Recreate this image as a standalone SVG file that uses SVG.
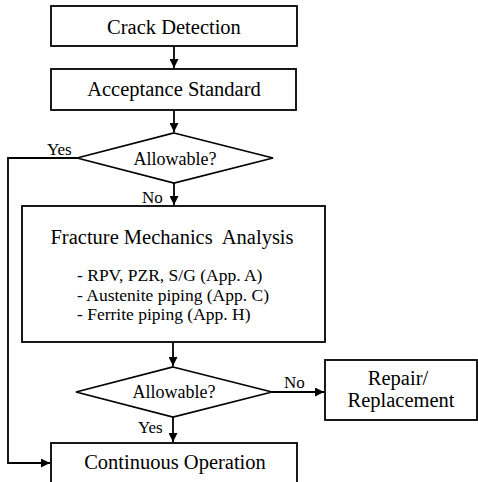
<svg xmlns="http://www.w3.org/2000/svg" width="478" height="482" viewBox="0 0 478 482" font-family="'Liberation Serif', 'Times New Roman', 'DejaVu Serif', serif">
<style>
.box{fill:#fff;stroke:#000;stroke-width:1.8}
.ln{fill:none;stroke:#000;stroke-width:1.8}
text{font-family:'Liberation Serif','Times New Roman','DejaVu Serif',serif;fill:#000}
.t{font-size:20.5px;text-anchor:middle}
.d{font-size:18px;text-anchor:middle}
.l{font-size:17.5px}
.lab{font-size:17px}
</style>
<defs>
<marker id="ah" viewBox="0 0 10 10" refX="10" refY="5" markerWidth="9" markerHeight="9" markerUnits="userSpaceOnUse" orient="auto">
<path d="M0,0 L10,5 L0,10 Z" fill="#000"/>
</marker>
</defs>
<rect width="478" height="482" fill="#fff"/>
<g id="connectors">
<line class="ln" x1="174" y1="46" x2="174" y2="68" marker-end="url(#ah)"/>
<line class="ln" x1="174" y1="110" x2="174" y2="132" marker-end="url(#ah)"/>
<line class="ln" x1="174" y1="183" x2="174" y2="205" marker-end="url(#ah)"/>
<line class="ln" x1="173" y1="342" x2="173" y2="366" marker-end="url(#ah)"/>
<line class="ln" x1="173" y1="417" x2="173" y2="442" marker-end="url(#ah)"/>
<line class="ln" x1="272" y1="392" x2="324" y2="392" marker-end="url(#ah)"/>
<polyline class="ln" points="77,158 8,158 8,463 50,463" marker-end="url(#ah)"/>
<text class="lab" x="47" y="155">Yes</text>
<text class="lab" x="142" y="203">No</text>
<text class="lab" x="284" y="388">No</text>
<text class="lab" x="138" y="433">Yes</text>
</g>
<g id="crack-detection">
<rect class="box" x="51" y="6" width="246" height="40"/>
<text class="t" x="174" y="34">Crack Detection</text>
</g>
<g id="acceptance-standard">
<rect class="box" x="51" y="69" width="245" height="41"/>
<text class="t" x="174" y="96">Acceptance Standard</text>
</g>
<g id="allowable-1">
<polygon class="box" points="174,133 273,158 174,183 77,158"/>
<text class="d" x="175" y="165">Allowable?</text>
</g>
<g id="fracture-mechanics">
<rect class="box" x="22" y="206" width="303" height="136"/>
<text class="t" x="172" y="244" xml:space="preserve">Fracture Mechanics  Analysis</text>
<text class="l" x="77" y="281">- RPV, PZR, S/G (App. A)</text>
<text class="l" x="77" y="301">- Austenite piping (App. C)</text>
<text class="l" x="77" y="320">- Ferrite piping (App. H)</text>
</g>
<g id="allowable-2">
<polygon class="box" points="173,367 272,392 173,417 76,392"/>
<text class="d" x="174" y="398">Allowable?</text>
</g>
<g id="repair-replacement">
<rect class="box" x="325" y="360" width="152" height="60"/>
<text class="t" x="398" y="385">Repair/</text>
<text class="t" x="401" y="407">Replacement</text>
</g>
<g id="continuous-operation">
<rect class="box" x="51" y="443" width="246" height="50"/>
<text class="t" x="175" y="469">Continuous Operation</text>
</g>
</svg>
